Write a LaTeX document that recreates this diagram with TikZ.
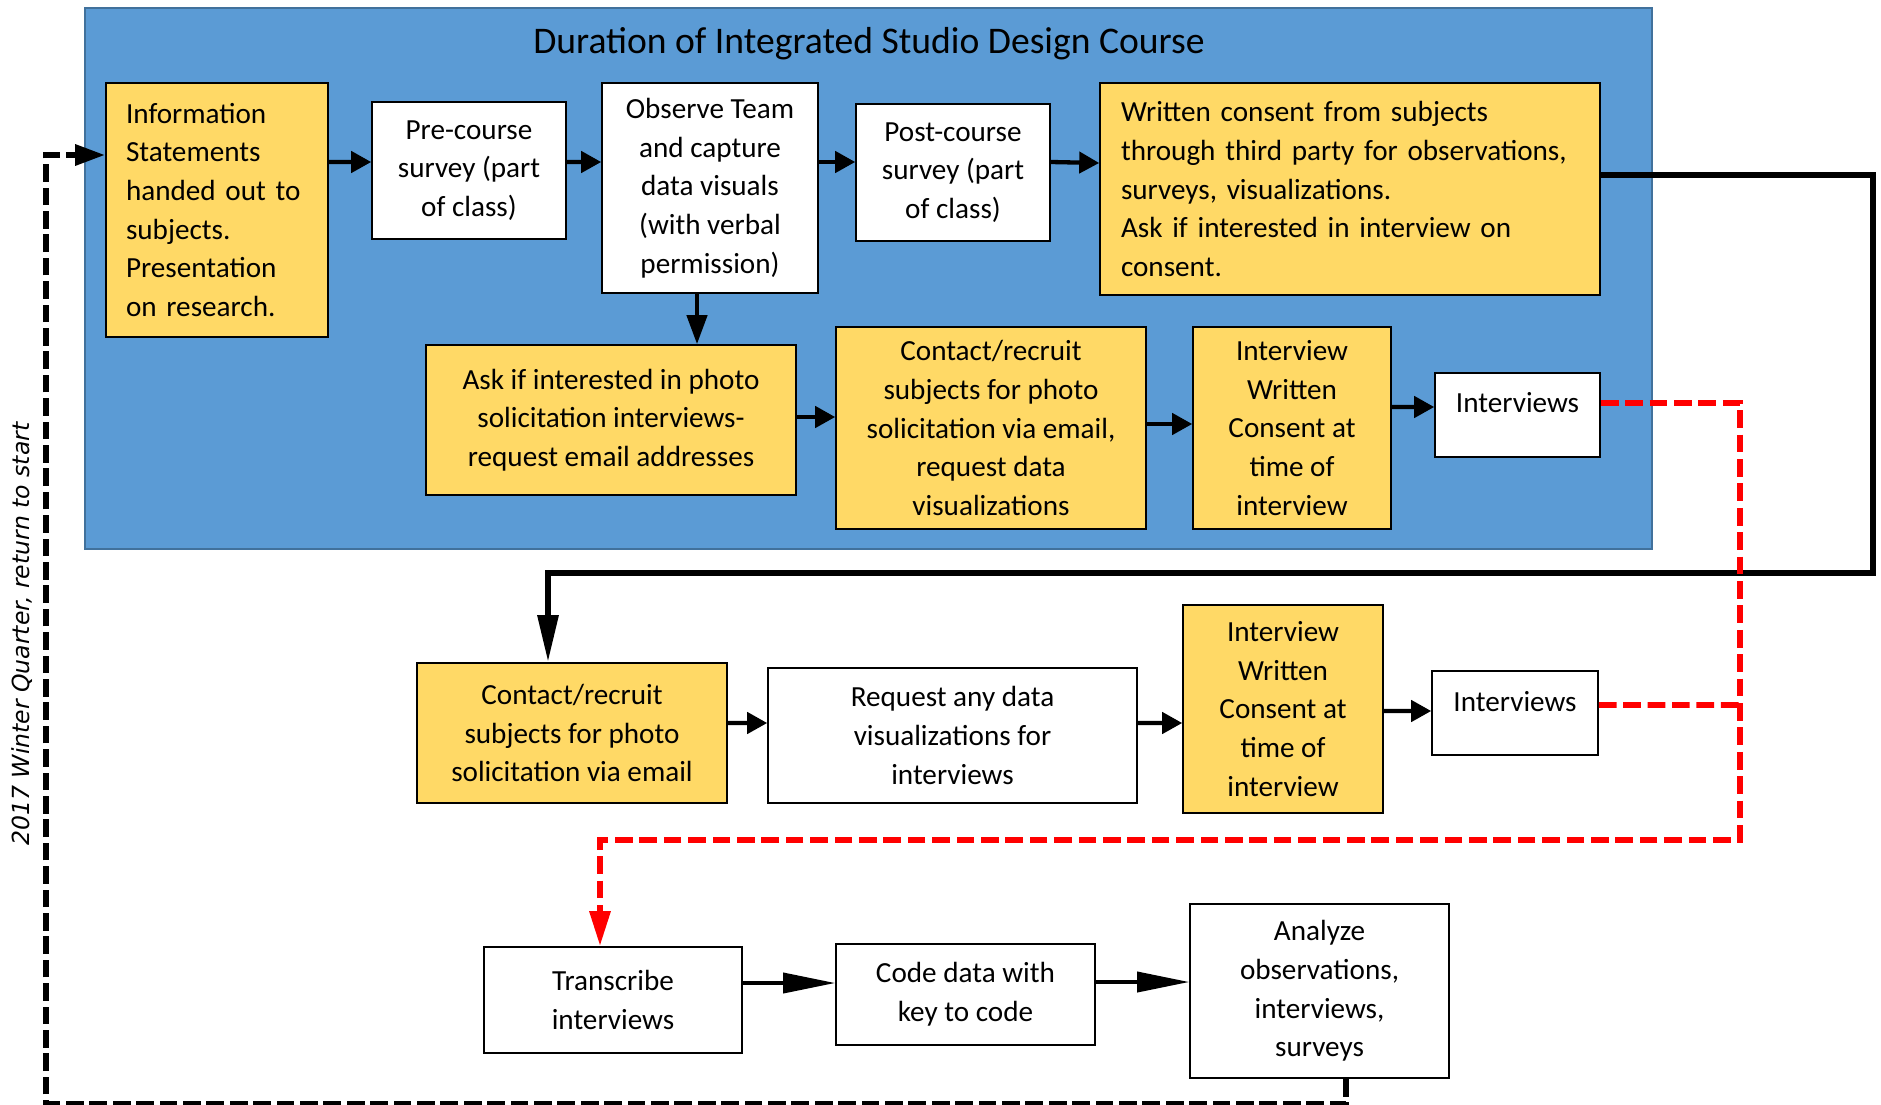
\documentclass[tikz,border=0pt]{standalone}
\usepackage{fontspec}
\setmainfont{Carlito}
\newfontfamily\sidefont{DejaVu Sans}
\usetikzlibrary{arrows.meta}

\definecolor{courseblue}{HTML}{5B9BD5}
\definecolor{courseedge}{HTML}{41719C}
\definecolor{stepgold}{HTML}{FFD966}
\definecolor{loopred}{HTML}{FF0000}

\begin{document}
\begin{tikzpicture}[
    box/.style={draw=black, line width=0.9pt, fill=white, inner sep=0pt, align=center,
        font=\fontsize{16.6}{22}\selectfont},
    goldbox/.style={box, fill=stepgold},
    flow/.style={line width=2.45pt, -{Triangle[length=0.4cm, width=0.42cm]}},
    drop/.style={line width=2.45pt, -{Triangle[length=0.58cm, width=0.4cm]}},
    longflow/.style={line width=2.1pt, -{Triangle[length=1.04cm, width=0.4cm]}},
    loopline/.style={line width=3.4pt, -{Triangle[length=0.94cm, width=0.4cm]}},
    redback/.style={draw=loopred, line width=3.4pt, dash pattern=on 0.354cm off 0.134cm},
    redtip/.style={redback, -{Triangle[length=0.7cm, width=0.4cm]}},
    backline/.style={line width=3.4pt, dash pattern=on 0.354cm off 0.114cm,
        -{Triangle[length=0.6cm, width=0.4cm]}}
]
    \useasboundingbox (0,0) rectangle (37.62,-22.08);

    \node[draw=courseedge, line width=1.2pt, fill=courseblue, minimum width=31.34cm,
        minimum height=10.82cm, inner sep=0pt] (course) at (17.37,-5.57) {};
    \node[font=\fontsize{21.4}{25}\selectfont] (title) at (17.38,-0.88)
        {Duration of Integrated Studio Design Course};

    \node[goldbox, align=left, inner xsep=0.4cm, text width=3.64cm, minimum height=5.08cm]
        (info) at (4.34,-4.20)
        {Information\\Statements\\handed out to\\subjects.\\Presentation\\on research.};
    \node[box, minimum width=3.88cm, minimum height=2.74cm] (pre) at (9.38,-3.41)
        {Pre-course\\survey (part\\of class)};
    \node[box, minimum width=4.32cm, minimum height=4.20cm] (obs) at (14.20,-3.76)
        {Observe Team\\and capture\\data visuals\\(with verbal\\permission)};
    \node[box, minimum width=3.88cm, minimum height=2.74cm] (post) at (19.06,-3.45)
        {Post-course\\survey (part\\of class)};
    \node[goldbox, align=left, inner xsep=0.42cm, text width=9.16cm, minimum height=4.24cm]
        (consent) at (27.00,-3.78)
        {Written consent from subjects\\through third party for observations,\\surveys, visualizations.\\Ask if interested in interview on\\consent.};

    \node[goldbox, minimum width=7.40cm, minimum height=3.00cm] (ask) at (12.22,-8.40)
        {Ask if interested in photo\\solicitation interviews-\\request email addresses};
    \node[goldbox, minimum width=6.20cm, minimum height=4.04cm] (recruitA) at (19.82,-8.56)
        {Contact/recruit\\subjects for photo\\solicitation via email,\\request data\\visualizations};
    \node[goldbox, minimum width=3.96cm, minimum height=4.04cm] (signA) at (25.84,-8.56)
        {Interview\\Written\\Consent at\\time of\\interview};
    \node[box, minimum width=3.30cm, text height=0.78cm, text depth=0.90cm] (talkA) at (30.35,-8.30)
        {Interviews};

    \node[goldbox, minimum width=6.20cm, minimum height=2.80cm] (recruitB) at (11.44,-14.66)
        {Contact/recruit\\subjects for photo\\solicitation via email};
    \node[box, minimum width=7.38cm, minimum height=2.70cm] (request) at (19.05,-14.71)
        {Request any data\\visualizations for\\interviews};
    \node[goldbox, minimum width=4.00cm, minimum height=4.16cm] (signB) at (25.66,-14.18)
        {Interview\\Written\\Consent at\\time of\\interview};
    \node[box, minimum width=3.32cm, text height=0.80cm, text depth=0.88cm] (talkB) at (30.30,-14.26)
        {Interviews};

    \node[box, minimum width=5.16cm, minimum height=2.12cm] (transcribe) at (12.26,-20.00)
        {Transcribe\\interviews};
    \node[box, minimum width=5.18cm, minimum height=2.02cm] (coding) at (19.31,-19.89)
        {Code data with\\key to code};
    \node[box, minimum width=5.18cm, minimum height=3.48cm] (analyze) at (26.39,-19.82)
        {Analyze\\observations,\\interviews,\\surveys};

    \node[rotate=90, font=\sidefont\itshape\fontsize{13.4}{16}\selectfont] (sidenote)
        at (0.44,-12.68) {2017 Winter Quarter, return to start};

    \coordinate (loopR) at (37.46,-11.46);
    \coordinate (redR) at (34.80,-16.80);
    \coordinate (redJ) at (34.80,-14.10);
    \coordinate (backL) at (0.92,-22.07);

    \draw[flow] ([yshift=0.96cm]info.east) -- ([yshift=0.17cm]pre.west);
    \draw[flow] ([yshift=0.17cm]pre.east) -- ([yshift=0.52cm]obs.west);
    \draw[flow] ([yshift=0.52cm]obs.east) -- ([yshift=0.21cm]post.west);
    \draw[flow] ([yshift=0.21cm]post.east) -- ([yshift=0.52cm]consent.west);
    \draw[drop] ([xshift=-0.26cm]obs.south) -- ([xshift=1.72cm]ask.north);
    \draw[flow] ([yshift=0.06cm]ask.east) -- ([yshift=0.22cm]recruitA.west);
    \draw[flow] ([yshift=0.08cm]recruitA.east) -- ([yshift=0.08cm]signA.west);
    \draw[flow] ([yshift=0.42cm]signA.east) -- ([yshift=0.16cm]talkA.west);

    \draw[loopline] ([yshift=0.28cm]consent.east) -| (loopR) -| ([xshift=-0.48cm]recruitB.north);

    \draw[flow] ([yshift=0.20cm]recruitB.east) -- ([yshift=0.25cm]request.west);
    \draw[flow] ([yshift=0.25cm]request.east) -- ([yshift=-0.28cm]signB.west);
    \draw[flow] ([yshift=-0.04cm]signB.east) -- ([yshift=0.04cm]talkB.west);

    \draw[redtip] ([yshift=0.24cm]talkA.east) -| (redR) -| ([xshift=-0.26cm]transcribe.north);
    \draw[redback] ([yshift=0.16cm]talkB.east) -- (redJ);

    \draw[longflow] ([yshift=0.34cm]transcribe.east) -- ([yshift=0.23cm]coding.west);
    \draw[longflow] ([yshift=0.25cm]coding.east) -- ([yshift=0.18cm]analyze.west);

    \draw[backline] ([xshift=0.53cm]analyze.south) |- (backL) |- ([yshift=1.1cm]info.west);

\end{tikzpicture}
\end{document}
